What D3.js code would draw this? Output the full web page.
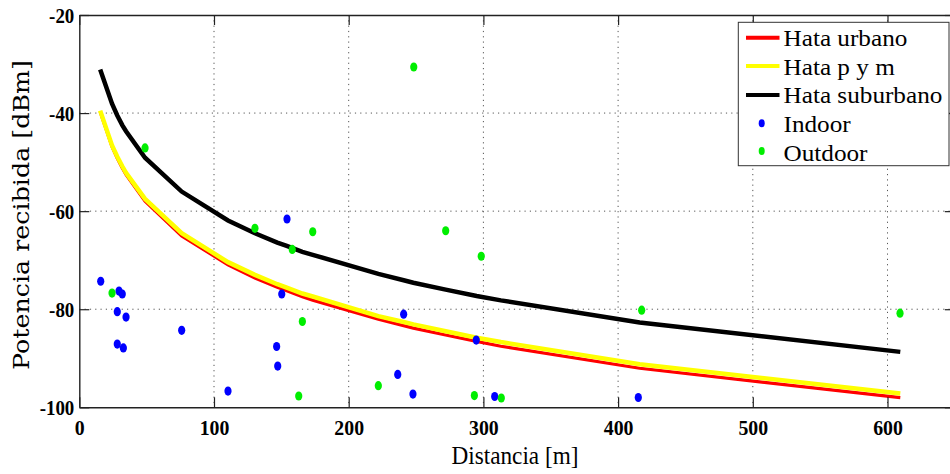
<!DOCTYPE html>
<html>
<head>
<meta charset="utf-8">
<script src="https://cdn.jsdelivr.net/npm/d3@7"></script>
<style>
  html, body { margin: 0; padding: 0; background: #fff; }
  svg { display: block; }
</style>
</head>
<body>
<svg id="chart" width="950" height="474"></svg>
<script>
// ---------- data ----------
const xTicks = [0, 100, 200, 300, 400, 500, 600];
const yTicks = [-100, -80, -60, -40, -20];

const curveDist = [15.5, 24.3, 28.2, 32, 34.7, 48.8, 76, 110.4, 130.4, 147, 154, 165.6, 173.3, 222, 240.8, 248, 272, 295, 313, 416, 609.5];
const hataUrbano = [-39.5, -46.6, -49.0, -51.0, -52.3, -57.7, -64.8, -70.7, -73.4, -75.3, -76.0, -77.2, -77.9, -81.8, -83.1, -83.6, -85.0, -86.3, -87.3, -91.8, -97.8];
const hataPyM = [-39.5, -46.6, -48.9, -50.9, -52.2, -57.5, -64.5, -70.4, -73.0, -74.9, -75.6, -76.8, -77.4, -81.4, -82.6, -83.1, -84.5, -85.8, -86.7, -91.2, -97.2];
const hataSuburbano = [-31.1, -38.1, -40.5, -42.5, -43.7, -49.1, -56.0, -61.9, -64.5, -66.4, -67.1, -68.3, -68.9, -72.8, -74.1, -74.6, -76.0, -77.3, -78.2, -82.7, -88.7];

const indoorDist = [15.9, 29.5, 31.9, 28.2, 34.7, 76.0, 28.2, 32.7, 154.2, 150.3, 146.5, 147.3, 110.4, 240.8, 294.7, 236.4, 247.7, 308.4, 415.0];
const indoorPow = [-74.3, -76.3, -76.9, -80.5, -81.6, -84.3, -87.1, -87.9, -61.6, -76.9, -87.6, -91.6, -96.7, -81.0, -86.3, -93.3, -97.3, -97.8, -98.0];
const outdoorDist = [24.3, 48.8, 130.4, 158.1, 173.3, 165.6, 162.9, 222.0, 248.3, 272.0, 293.3, 298.4, 313.3, 417.5, 609.3];
const outdoorPow = [-76.7, -47.1, -63.5, -67.8, -64.2, -82.5, -97.7, -95.6, -30.6, -64.0, -97.6, -69.2, -98.1, -80.2, -80.8];

const legendLabels = ["Hata urbano", "Hata p y m", "Hata suburbano", "Indoor", "Outdoor"];

// ---------- layout ----------
const L = 79.3, T = 15, B = 407.3;
const xScale = d3.scaleLinear().domain([0, 650]).range([L, L + 6.5 * 134.7]);
const yScale = d3.scaleLinear().domain([-100, -20]).range([B, T]);
const R = xScale(650);

const svg = d3.select("#chart");
const axisColor = "#222";

svg.append("defs").append("clipPath").attr("id", "plotclip")
  .append("rect").attr("x", L).attr("y", T).attr("width", R - L).attr("height", B - T);

function squeeze(sel, f) {
  sel.each(function () {
    const len = this.getComputedTextLength();
    this.setAttribute("textLength", len * f);
    this.setAttribute("lengthAdjust", "spacingAndGlyphs");
  });
}
function fitWidth(sel, w) {
  sel.attr("textLength", w).attr("lengthAdjust", "spacingAndGlyphs");
}

// ---------- grid ----------
const grid = svg.append("g");
grid.selectAll("line.gx").data(xTicks.filter(d => d > 0)).enter().append("line")
  .attr("x1", d => xScale(d)).attr("x2", d => xScale(d))
  .attr("y1", T).attr("y2", B)
  .attr("stroke", "#555").attr("stroke-width", 1).attr("stroke-dasharray", "1.2,4.1");
grid.selectAll("line.gy").data(yTicks.filter(d => d > -100 && d < -20)).enter().append("line")
  .attr("x1", L).attr("x2", R)
  .attr("y1", d => yScale(d)).attr("y2", d => yScale(d))
  .attr("stroke", "#555").attr("stroke-width", 1).attr("stroke-dasharray", "1.2,4.1");

// ---------- curves ----------
const line = d3.line().x(d => xScale(d[0])).y(d => yScale(d[1]));
const curves = svg.append("g").attr("clip-path", "url(#plotclip)");
function zipXY(xs, ys) { return xs.map((x, i) => [x, ys[i]]); }
curves.append("path").datum(zipXY(curveDist, hataUrbano))
  .attr("d", line).attr("fill", "none").attr("stroke", "#ff0000").attr("stroke-width", 3.2)
  .attr("transform", "translate(0,1.2)");
curves.append("path").datum(zipXY(curveDist, hataPyM))
  .attr("d", line).attr("fill", "none").attr("stroke", "#ffff00").attr("stroke-width", 4.5);
curves.append("path").datum(zipXY(curveDist, hataSuburbano))
  .attr("d", line).attr("fill", "none").attr("stroke", "#000").attr("stroke-width", 4.5);

// ---------- points ----------
const pts = svg.append("g");
pts.selectAll("ellipse.in").data(zipXY(indoorDist, indoorPow)).enter().append("ellipse")
  .attr("cx", d => xScale(d[0])).attr("cy", d => yScale(d[1]))
  .attr("rx", 3.6).attr("ry", 4.6).attr("fill", "#0000ff");
pts.selectAll("ellipse.out").data(zipXY(outdoorDist, outdoorPow)).enter().append("ellipse")
  .attr("cx", d => xScale(d[0])).attr("cy", d => yScale(d[1]))
  .attr("rx", 3.6).attr("ry", 4.6).attr("fill", "#00ee00");

// ---------- axes ----------
const tickFont = "'Liberation Serif', 'Times New Roman', serif";
const gx = svg.append("g").attr("transform", `translate(0,${B})`)
  .call(d3.axisBottom(xScale).tickValues(xTicks).tickSizeInner(-10).tickSizeOuter(0).tickPadding(0).tickFormat(d3.format("d")));
const gy = svg.append("g").attr("transform", `translate(${L},0)`)
  .call(d3.axisLeft(yScale).tickValues(yTicks).tickSizeInner(-10).tickSizeOuter(0).tickPadding(0).tickFormat(d => String(d).replace("\u2212", "-")));
const gt = svg.append("g").attr("transform", `translate(0,${T})`)
  .call(d3.axisTop(xScale).tickValues(xTicks).tickSizeInner(-10).tickSizeOuter(0).tickFormat(""));
const gr = svg.append("g").attr("transform", `translate(${R},0)`)
  .call(d3.axisRight(yScale).tickValues(yTicks).tickSizeInner(-10).tickSizeOuter(0).tickFormat(""));

[gx, gy, gt, gr].forEach(g => {
  g.select(".domain").attr("stroke", axisColor).attr("stroke-width", 1.4);
  g.selectAll(".tick line").attr("stroke", axisColor).attr("stroke-width", 1.2);
});

gx.selectAll(".tick text")
  .attr("y", 28).attr("dy", 0)
  .attr("font-family", tickFont).attr("font-weight", "bold").attr("font-size", 22)
  .attr("fill", "#000");
gy.selectAll(".tick text")
  .attr("x", -5).attr("dy", "7.5")
  .attr("font-family", tickFont).attr("font-weight", "bold").attr("font-size", 21)
  .attr("fill", "#000");
squeeze(gx.selectAll(".tick text"), 0.9);
squeeze(gy.selectAll(".tick text"), 0.9);

// axis titles
const xt = svg.append("text").attr("x", 515).attr("y", 463.5).attr("text-anchor", "middle")
  .attr("font-family", tickFont).attr("font-size", 26).attr("fill", "#000")
  .text("Distancia [m]");
fitWidth(xt, 127);

const yt = svg.append("text").attr("transform", "translate(28.5,215) rotate(-90)").attr("text-anchor", "middle")
  .attr("font-family", "'DejaVu Serif', serif").attr("font-size", 22).attr("fill", "#000")
  .text("Potencia recibida [dBm]");
fitWidth(yt, 310);

// ---------- legend ----------
const lg = svg.append("g");
lg.append("rect").attr("x", 738.3).attr("y", 22.3).attr("width", 949 - 738.3).attr("height", 165.7 - 22.3)
  .attr("fill", "#fff").attr("stroke", "#333").attr("stroke-width", 1);
const legColors = ["#ff0000", "#ffff00", "#000000", "#0000ff", "#00ee00"];
const rowBase = [46, 74.6, 103.2, 132.2, 160.5];
const lineY = [37.7, 65.9, 95, 123.3, 151];
const legendWidths = [125, 100, 158, 75, 82];
legendLabels.forEach((lab, i) => {
  if (i < 3) {
    lg.append("line").attr("x1", 746).attr("x2", 779.5).attr("y1", lineY[i]).attr("y2", lineY[i])
      .attr("stroke", legColors[i]).attr("stroke-width", 4);
  } else {
    lg.append("ellipse").attr("cx", 761.7).attr("cy", lineY[i]).attr("rx", 3).attr("ry", 4)
      .attr("fill", legColors[i]);
  }
  const t = lg.append("text").attr("x", 783.5).attr("y", rowBase[i])
    .attr("font-family", tickFont).attr("font-size", 24).attr("fill", "#000").text(lab);
  squeeze(t, 1.05);
});
</script>
</body>
</html>
